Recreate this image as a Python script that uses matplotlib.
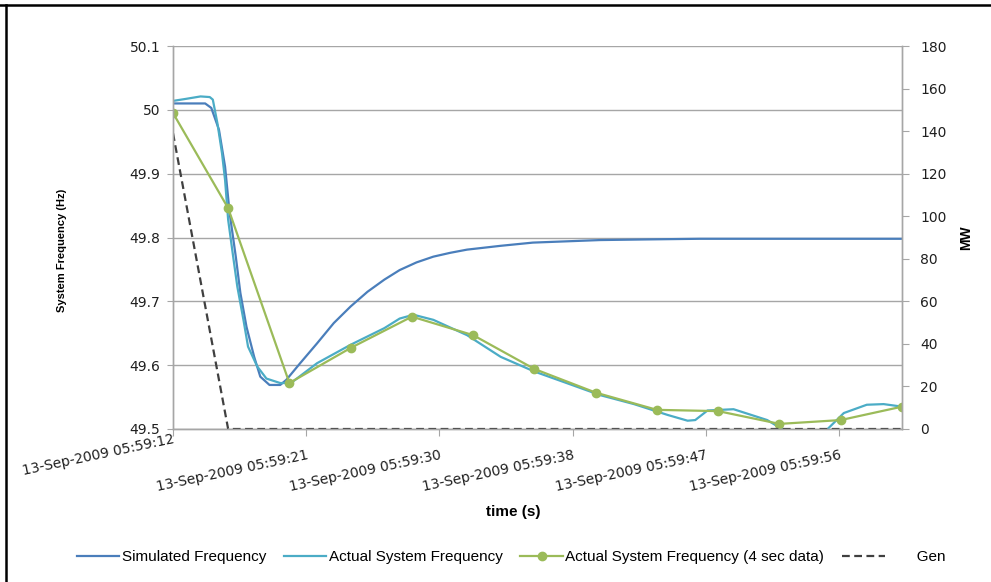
import matplotlib
matplotlib.use("Agg")
import matplotlib.pyplot as plt
from matplotlib.lines import Line2D
import matplotlib.transforms as mtransforms

# time axis in seconds after 13-Sep-2009 05:59:12
tick_pos = [0, 8.7, 17.4, 26.1, 34.8, 43.5]
tick_labels = ["13-Sep-2009 05:59:12", "13-Sep-2009 05:59:21", "13-Sep-2009 05:59:30",
               "13-Sep-2009 05:59:38", "13-Sep-2009 05:59:47", "13-Sep-2009 05:59:56"]

sim_t = [0, 2.1, 2.5, 3.0, 3.4, 3.7, 4.1, 4.4, 4.8, 5.3, 5.7, 6.3, 7.0, 7.4, 8.3, 9.4,
         10.5, 11.6, 12.7, 13.8, 14.8, 15.9, 17.0, 18.1, 19.2, 20.3, 21.4, 23.5, 25.7,
         27.9, 31.0, 34.4, 41.0, 47.6]
sim_f = [50.010, 50.010, 50.003, 49.969, 49.911, 49.838, 49.770, 49.713, 49.660, 49.613,
         49.582, 49.569, 49.569, 49.577, 49.603, 49.634, 49.666, 49.692, 49.715, 49.734,
         49.749, 49.761, 49.770, 49.776, 49.781, 49.784, 49.787, 49.792, 49.794,
         49.796, 49.797, 49.798, 49.798, 49.798]

act_t = [0, 0.8, 1.8, 2.4, 2.6, 2.9, 3.2, 3.4, 3.6, 3.9, 4.2, 4.6, 4.9, 5.5, 6.1, 7.0,
         7.7, 9.4, 11.6, 13.8, 14.8, 15.7, 17.0, 19.2, 21.4, 23.6, 25.7, 27.9, 30.1, 32.3,
         33.6, 34.1, 34.9, 36.6, 38.8, 39.9, 41.0, 42.0, 42.7, 43.8, 45.3, 46.4, 47.6]
act_f = [50.014, 50.017, 50.021, 50.020, 50.016, 49.979, 49.932, 49.890, 49.828, 49.775,
         49.723, 49.671, 49.629, 49.598, 49.579, 49.572, 49.572, 49.603, 49.632, 49.658,
         49.673, 49.679, 49.671, 49.647, 49.613, 49.590, 49.572, 49.553, 49.539, 49.522,
         49.513, 49.514, 49.529, 49.531, 49.514, 49.498, 49.485, 49.485, 49.499, 49.525,
         49.538, 49.539, 49.535]

g4_t = [0, 3.6, 7.6, 11.6, 15.6, 19.6, 23.6, 27.6, 31.6, 35.6, 39.6, 43.6, 47.6]
g4_f = [49.995, 49.846, 49.572, 49.627, 49.676, 49.647, 49.594, 49.557, 49.530, 49.528,
        49.508, 49.514, 49.535]

gen_t = [0, 3.6, 47.6]
gen_mw = [139, 0, 0]

SANS = ["Liberation Sans", "DejaVu Sans"]
GRID = "#a6a6a6"
TXT = "#1f1f1f"

fig = plt.figure(figsize=(9.91, 5.82), dpi=100)
ax = fig.add_axes([173 / 991, 1 - 429 / 582, 729 / 991, 383 / 582])
ax2 = ax.twinx()

l1, = ax.plot(sim_t, sim_f, color="#4a7ebb", lw=1.6, label="Simulated Frequency")
l2, = ax.plot(act_t, act_f, color="#4bacc6", lw=1.6, label="Actual System Frequency")
l3, = ax.plot(g4_t, g4_f, color="#9bbb59", lw=1.6, marker="o", ms=6,
              label="Actual System Frequency (4 sec data)")
l4, = ax2.plot(gen_t, gen_mw, color="#404040", lw=1.6, ls=(0, (3.5, 2)), label="       Gen")

ax.set_xlim(0, 47.6)
ax.set_ylim(49.5, 50.1)
ax.set_yticks([49.5, 49.6, 49.7, 49.8, 49.9, 50.0, 50.1])
ax.set_yticklabels(["49.5", "49.6", "49.7", "49.8", "49.9", "50", "50.1"])
ax2.set_ylim(0, 180)
ax2.set_yticks(range(0, 181, 20))
ax.yaxis.grid(True, color=GRID, lw=1.0)
ax.set_axisbelow(True)

for a in (ax, ax2):
    a.spines["top"].set_visible(False)
    for s in ("left", "right", "bottom"):
        a.spines[s].set_color(GRID)
        a.spines[s].set_linewidth(1.0)
ax.tick_params(axis="y", colors=GRID, labelcolor=TXT, labelsize=10, length=4, pad=5)
ax2.tick_params(axis="y", colors=GRID, labelcolor=TXT, labelsize=10, length=5, pad=8)
ax.set_xticks(tick_pos)
ax.set_xticklabels([])
ax.tick_params(axis="x", colors=GRID, length=5)

trans = mtransforms.blended_transform_factory(ax.transData, ax.transAxes)
for i, (p, lab) in enumerate(zip(tick_pos, tick_labels)):
    dy = 0.0 if i else 16 / 100
    ax.text(p, -0.05, lab, transform=trans + mtransforms.ScaledTranslation(0, dy, fig.dpi_scale_trans),
            rotation=12, rotation_mode="anchor", ha="right", va="top", fontsize=10, color=TXT)

fig.text(62 / 991, 1 - 250 / 582, "System Frequency (Hz)", rotation=90, ha="center", va="center",
         fontsize=8, fontweight="bold", family=SANS, color="black")
fig.text(966 / 991, 1 - 238 / 582, "MW", rotation=90, ha="center", va="center",
         fontsize=10, fontweight="bold", family=SANS, color="black")
fig.text(513 / 991, 1 - 512 / 582, "time (s)", ha="center", va="center",
         fontsize=11, fontweight="bold", family=SANS, color="black")

fig.legend(handles=[l1, l2, l3, l4], loc="center", bbox_to_anchor=(511 / 991, 1 - 557 / 582),
           ncol=4, frameon=False, prop={"family": SANS, "size": 11}, handlelength=2.8,
           handletextpad=0.15, columnspacing=1.15)

# border of the pasted picture
fig.add_artist(Line2D([0, 1], [1 - 5 / 582] * 2, color="black", lw=1.8, transform=fig.transFigure))
fig.add_artist(Line2D([6 / 991] * 2, [0, 1 - 5 / 582], color="black", lw=1.8, transform=fig.transFigure))

fig.savefig("out.png", dpi=100)
